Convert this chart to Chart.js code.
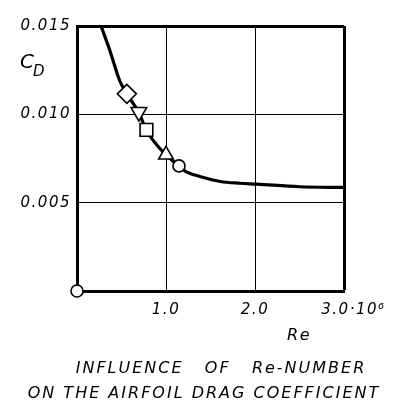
<!DOCTYPE html>
<html>
<head>
<meta charset="utf-8">
<script src="https://cdn.jsdelivr.net/npm/chart.js@4/dist/chart.umd.min.js"></script>
<style>
  html, body { margin: 0; padding: 0; background: #fff; }
</style>
</head>
<body>
<canvas id="graph" width="398" height="408"></canvas>
<script>
const FONT = "'DejaVu Sans', sans-serif";

// drag curve C_D(Re), Re in 10^6
const curveRe = [0.27, 0.37, 0.48, 0.56, 0.695, 0.78, 1.0, 1.146, 1.21, 1.38, 1.61, 1.83, 2.02, 2.5, 3.0];
const curveCd = [0.0150, 0.0136, 0.0119, 0.01116, 0.0101, 0.0091, 0.0077, 0.00708, 0.0068, 0.00648, 0.0062, 0.0061, 0.00605, 0.0059, 0.00586];

// measured points (symbols)
const markRe = [0.56, 0.695, 0.78, 1.0, 1.146, 0];
const markCd = [0.01116, 0.01013, 0.00912, 0.00771, 0.00708, 0];
const markStyle = ['rectRot', 'triangle', 'rect', 'triangle', 'circle', 'circle'];
const markRot = [0, 180, 0, 0, 0, 0];
const markSize = [9.5, 9, 9, 8.5, 6, 6];

// tick labels
const xTickLabels = {1: '1.0', 2: '2.0', 3: '   3.0\u00b710\u2076'};
const yTickLabels = ['0.005', '0.010', '0.015'];

const captionLines = ['INFLUENCE   OF   Re-NUMBER', 'ON THE AIRFOIL DRAG COEFFICIENT'];
const captionShift = [21, 4];

Chart.defaults.color = '#000';
Chart.defaults.font.family = FONT;

const toPts = (xs, ys) => xs.map((x, i) => ({x: x, y: ys[i]}));

// stencil lettering is widely spaced
const spacing = {
    id: 'spacing',
    beforeDraw(chart) {
        chart.ctx.letterSpacing = '1.5px';
    }
};

// C_D label next to the y axis, caption under the chart
const labels = {
    id: 'labels',
    afterDraw(chart) {
        const c = chart.ctx;
        const py = chart.scales.y.getPixelForValue(0.0129);
        const px = chart.chartArea.left - 57;
        c.save();
        c.letterSpacing = '0px';
        c.fillStyle = '#000';
        c.textAlign = 'left';
        c.textBaseline = 'middle';
        c.font = 'italic 20px ' + FONT;
        c.fillText('C', px, py);
        c.font = 'italic 15px ' + FONT;
        c.fillText('D', px + 13, py + 9);

        // caption
        const sp = 2;
        const top = chart.chartArea.bottom + 78;
        c.font = 'italic 16px ' + FONT;
        captionLines.forEach((line, i) => {
            c.letterSpacing = '0px';
            const w = c.measureText(line).width + sp * (line.length - 1);
            c.letterSpacing = sp + 'px';
            c.fillText(line, chart.width / 2 - w / 2 + captionShift[i], top + i * 25);
        });
        c.restore();
    }
};

const ctx = document.getElementById('graph').getContext('2d');

const myChart = new Chart(ctx, {
    type: 'scatter',
    data: {
        datasets: [{
            label: 'points',
            data: toPts(markRe, markCd),
            pointStyle: markStyle,
            rotation: markRot,
            pointRadius: markSize,
            backgroundColor: '#fff',
            borderColor: '#000',
            borderWidth: 1.6,
            showLine: false,
            clip: false
        }, {
            label: 'curve',
            data: toPts(curveRe, curveCd),
            showLine: true,
            borderColor: '#000',
            borderWidth: 3.2,
            pointRadius: 0,
            cubicInterpolationMode: 'monotone'
        }]
    },
    options: {
        responsive: false,
        animation: false,
        events: [],
        layout: {
            padding: {left: 0, right: 54, top: 26, bottom: 57}
        },
        plugins: {
            legend: {display: false},
            tooltip: {enabled: false}
        },
        scales: {
            x: {
                type: 'linear',
                min: 0,
                max: 3,
                afterFit: (s) => { s.height = 60; },
                ticks: {
                    stepSize: 1,
                    autoSkip: false,
                    maxRotation: 0,
                    padding: 10,
                    font: {family: FONT, size: 15, style: 'italic'},
                    callback: (v) => xTickLabels[v] || ''
                },
                grid: {
                    drawTicks: false,
                    color: '#000',
                    lineWidth: (c) => (c.tick && c.tick.value === 3) ? 3 : 1
                },
                border: {display: true, color: '#000', width: 3},
                title: {
                    display: true,
                    text: 'Re     ',
                    align: 'end',
                    font: {family: FONT, size: 16, style: 'italic'},
                    padding: {top: 0, bottom: 6}
                }
            },
            y: {
                min: 0,
                max: 0.015,
                afterFit: (s) => { s.width = 77; },
                ticks: {
                    stepSize: 0.005,
                    padding: 6,
                    font: {family: FONT, size: 15, style: 'italic'},
                    callback: (v) => {
                        const i = Math.round(v / 0.005) - 1;
                        return i >= 0 ? yTickLabels[i] : '';
                    }
                },
                grid: {
                    drawTicks: false,
                    color: '#000',
                    lineWidth: (c) => (c.tick && c.tick.value > 0.0149) ? 3 : 1
                },
                border: {display: true, color: '#000', width: 3}
            }
        }
    },
    plugins: [spacing, labels]
});
</script>
</body>
</html>
